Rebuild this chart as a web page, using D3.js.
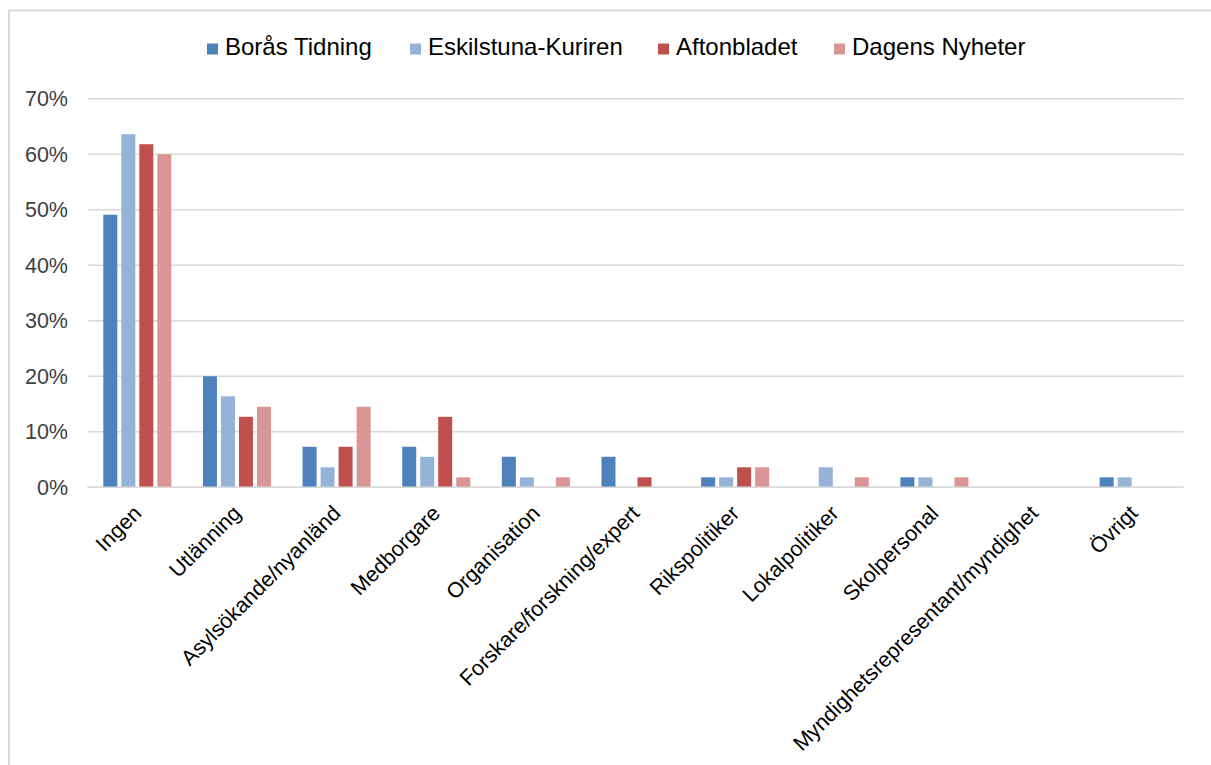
<!DOCTYPE html>
<html>
<head>
<meta charset="utf-8">
<script src="https://cdn.jsdelivr.net/npm/d3@7"></script>
<style>
  html, body { margin: 0; padding: 0; background: #fff; }
  svg { display: block; font-family: "Liberation Sans", Arial, sans-serif; }
</style>
</head>
<body>
<svg id="chart" width="1211" height="765"></svg>
<script>
const categories = ["Ingen", "Utlänning", "Asylsökande/nyanländ", "Medborgare", "Organisation",
  "Forskare/forskning/expert", "Rikspolitiker", "Lokalpolitiker", "Skolpersonal",
  "Myndighetsrepresentant/myndighet", "Övrigt"];
const seriesNames = ["Borås Tidning", "Eskilstuna-Kuriren", "Aftonbladet", "Dagens Nyheter"];
const borasTidning      = [0.491, 0.200, 0.073, 0.073, 0.055, 0.055, 0.018, 0.000, 0.018, 0, 0.018];
const eskilstunaKuriren = [0.636, 0.164, 0.036, 0.055, 0.018, 0.000, 0.018, 0.036, 0.018, 0, 0.018];
const aftonbladet       = [0.618, 0.127, 0.073, 0.127, 0.000, 0.018, 0.036, 0.000, 0.000, 0, 0.000];
const dagensNyheter     = [0.600, 0.145, 0.145, 0.018, 0.018, 0.000, 0.036, 0.018, 0.018, 0, 0.000];
const yTicks = [0, 0.1, 0.2, 0.3, 0.4, 0.5, 0.6, 0.7];
const colors = ["#4F81BD", "#95B3D7", "#C0504D", "#D99694"];

const seriesValues = [borasTidning, eskilstunaKuriren, aftonbladet, dagensNyheter];

const svg = d3.select("#chart");

// outer frame
svg.append("path")
  .attr("d", "M9,765 V10.5 H1211")
  .attr("fill", "none").attr("stroke", "#d9d9d9").attr("stroke-width", 2);

const plot = { left: 87.5, right: 1183.5, top: 98.7, bottom: 487.3 };

const x0 = d3.scaleBand().domain(categories).range([plot.left, plot.right]).paddingInner(0).paddingOuter(0);
const bw = x0.bandwidth();
const x1 = d3.scaleBand().domain(seriesNames).range([15.8, bw - 15.8]).paddingInner(4 / 18).paddingOuter(0);
const y = d3.scaleLinear().domain([0, 0.7]).range([plot.bottom, plot.top]);

// gridlines
const grid = svg.append("g");
grid.selectAll("line").data(yTicks).join("line")
  .attr("x1", plot.left).attr("x2", plot.right)
  .attr("y1", d => y(d)).attr("y2", d => y(d))
  .attr("stroke", "#d9d9d9").attr("stroke-width", 1.5);

// y axis labels
const yAxis = d3.axisLeft(y).tickValues(yTicks).tickFormat(d3.format(".0%")).tickSize(0).tickPadding(0);
const yg = svg.append("g").attr("transform", `translate(${plot.left - 19.5},0)`).call(yAxis);
yg.select(".domain").remove();
yg.selectAll("text").attr("font-size", 21.5).attr("fill", "#404040")
  .attr("font-family", "'Liberation Sans', Arial, sans-serif");

// bars
const groups = svg.append("g").selectAll("g").data(categories).join("g")
  .attr("transform", d => `translate(${x0(d)},0)`);
groups.selectAll("rect")
  .data((c, i) => seriesNames.map((s, j) => ({ s, j, v: seriesValues[j][i] })))
  .join("rect")
  .filter(d => d.v > 0)
  .attr("x", d => x1(d.s))
  .attr("width", x1.bandwidth())
  .attr("y", d => y(d.v))
  .attr("height", d => y(0) - y(d.v))
  .attr("fill", d => colors[d.j]);

// x axis line
svg.append("line")
  .attr("x1", plot.left).attr("x2", plot.right)
  .attr("y1", y(0)).attr("y2", y(0))
  .attr("stroke", "#d9d9d9").attr("stroke-width", 1.5);

// category labels
const xAxis = d3.axisBottom(x0).tickSize(0).tickPadding(0);
const xg = svg.append("g").attr("transform", `translate(0,${plot.bottom})`).call(xAxis);
xg.select(".domain").remove();
xg.selectAll("text")
  .attr("font-size", 21.5).attr("fill", "#000")
  .attr("font-family", "'Liberation Sans', Arial, sans-serif")
  .attr("text-anchor", "end")
  .attr("dy", "0.35em")
  .attr("transform", "translate(0,22) rotate(-45)");

// legend
const legendItems = [
  { name: seriesNames[0], x: 207 },
  { name: seriesNames[1], x: 410 },
  { name: seriesNames[2], x: 658 },
  { name: seriesNames[3], x: 834 }
];
const lg = svg.append("g").selectAll("g").data(legendItems).join("g")
  .attr("transform", d => `translate(${d.x},0)`);
lg.append("rect").attr("x", 0).attr("y", 43.5).attr("width", 11).attr("height", 11)
  .attr("fill", (d, i) => colors[i]);
lg.append("text").attr("x", 18).attr("y", 55)
  .attr("font-size", 24).attr("fill", "#000")
  .text(d => d.name);
</script>
</body>
</html>
